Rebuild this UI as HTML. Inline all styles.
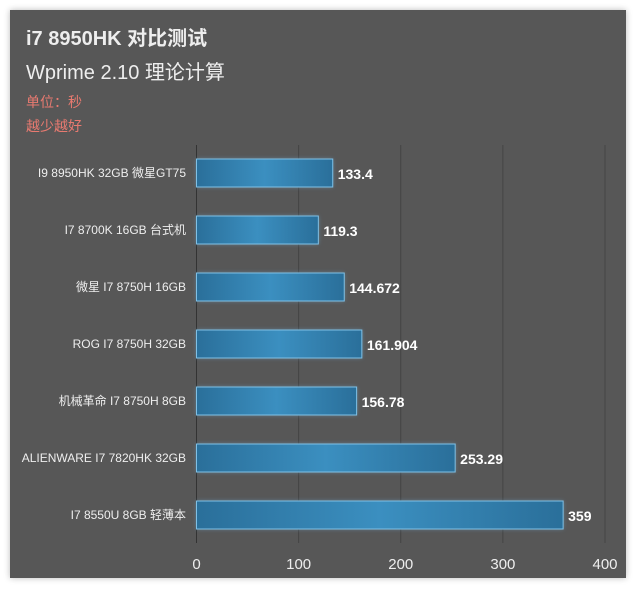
<!DOCTYPE html>
<html><head><meta charset="utf-8"><style>
body{margin:0;background:#fff;width:640px;height:593px;overflow:hidden;font-family:"Liberation Sans","Noto Sans CJK SC",sans-serif}
#panel{position:absolute;left:10px;top:10px;width:616px;height:568px;background:#575757;box-shadow:0 0 6px #bbb}
.t{position:absolute;white-space:nowrap}
</style></head><body>
<div id="panel"></div>
<div class="t" style="left:26px;top:22px;font-size:20px;font-weight:bold;color:#eee">i7 8950HK 对比测试</div>
<div class="t" style="left:26px;top:56px;font-size:20px;color:#eee">Wprime 2.10 理论计算</div>
<div class="t" style="left:26px;top:92px;font-size:14px;color:#e87a70">单位：秒</div>
<div class="t" style="left:26px;top:116px;font-size:14px;color:#e87a70">越少越好</div>
<svg width="640" height="593" style="position:absolute;left:0;top:0" id="chart">
<defs><linearGradient id="g" x1="0" x2="1"><stop offset="0" stop-color="#2a6f9a"/><stop offset="0.5" stop-color="#3b8fc0"/><stop offset="1" stop-color="#2a6f9a"/></linearGradient>
<filter id="glow" x="-10%" y="-30%" width="120%" height="160%"><feGaussianBlur stdDeviation="2"/></filter></defs>
</svg>
<script>
const categories=["I9 8950HK  32GB 微星GT75","I7 8700K 16GB 台式机","微星 I7 8750H 16GB","ROG I7 8750H 32GB","机械革命 I7 8750H 8GB","ALIENWARE I7 7820HK 32GB","I7 8550U 8GB 轻薄本"];
const values=[133.4,119.3,144.672,161.904,156.78,253.29,359];
const valueLabels=["133.4","119.3","144.672","161.904","156.78","253.29","359"];
const ticks=[0,100,200,300,400];
const svg=document.getElementById('chart');const NS='http://www.w3.org/2000/svg';
const x=v=>196.5+v*(605-196.5)/400;
const y=i=>173+i*57;
function mk(t,a,txt){const e=document.createElementNS(NS,t);for(const k in a)e.setAttribute(k,a[k]);if(txt!=null)e.textContent=txt;svg.appendChild(e);return e;}
ticks.forEach(t=>{
 const l=mk('line',{x1:x(t),x2:x(t),y1:145,y2:543,stroke:t===0?'#333':'#444','stroke-width':1});
 
 
 const tx=mk('text',{x:x(t),y:569,'text-anchor':'middle','font-size':15,fill:'#eee'},String(t));
 
 
});
categories.forEach((c,i)=>{
 const cy=y(i),w=x(values[i])-x(0);
 mk('rect',{x:x(0),y:cy-14,width:w,height:28,fill:'#6fb4dc',opacity:0.5,filter:'url(#glow)'});
 const r=mk('rect',{x:x(0),y:cy-14,width:w,height:28,fill:'url(#g)',stroke:'#7fc0e6','stroke-width':1});
 
 
 const lb=mk('text',{x:186,y:cy+4,'text-anchor':'end','font-size':12,fill:'#eee'},c);
 
 
 const v=mk('text',{x:x(values[i])+5,y:cy+6,'font-size':14,'font-weight':'bold',fill:'#fff'},valueLabels[i]);
 
 
});
</script>
</body></html>
